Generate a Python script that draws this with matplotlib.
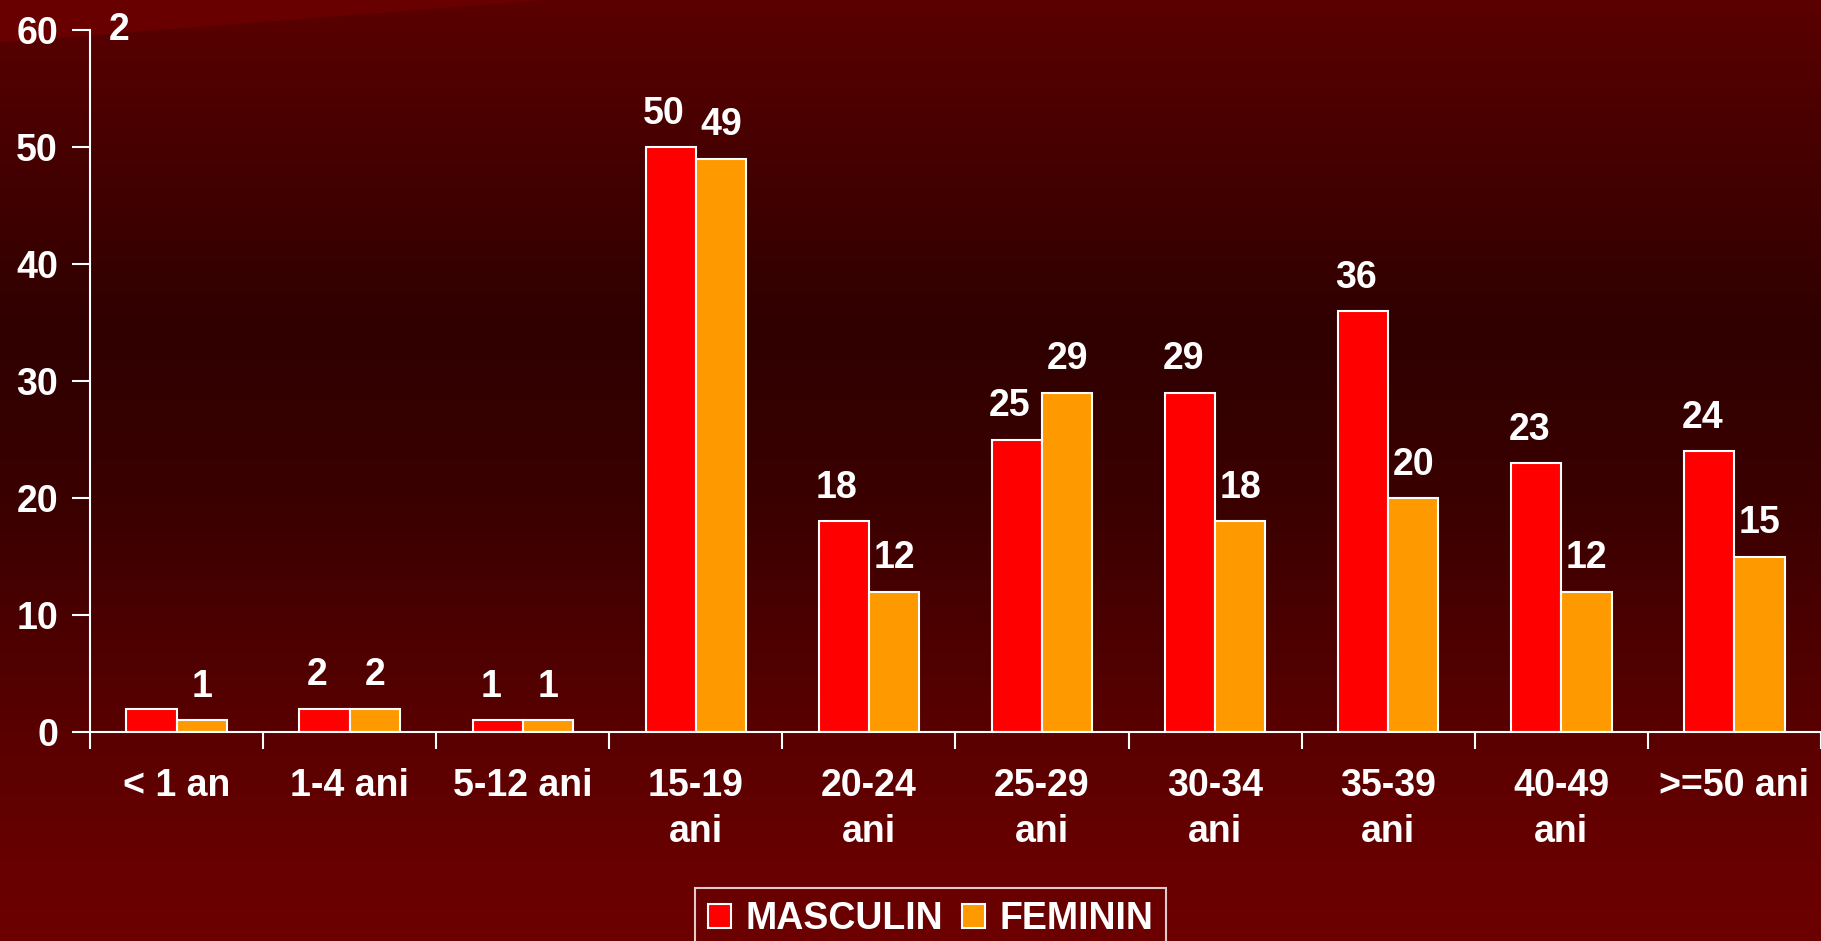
import numpy as np
import matplotlib
matplotlib.use("Agg")
import matplotlib.pyplot as plt
from matplotlib.colors import LinearSegmentedColormap
from matplotlib.patches import Polygon

categories = ["< 1 an", "1-4 ani", "5-12 ani", "15-19\nani", "20-24\nani",
              "25-29\nani", "30-34\nani", "35-39\nani", "40-49\nani", ">=50 ani"]
masculin = [2, 2, 1, 50, 18, 25, 29, 36, 23, 24]
feminin = [1, 2, 1, 49, 12, 29, 18, 20, 12, 15]
series_names = ["MASCULIN", "FEMININ"]
yticks = [0, 10, 20, 30, 40, 50, 60]

plt.rcParams['font.family'] = ['Liberation Sans', 'DejaVu Sans']
plt.rcParams['font.weight'] = 'bold'

FS = 27
W, H = 1821, 941
fig = plt.figure(figsize=(W / 100, H / 100), dpi=100)

# background gradient (row 0 = top of figure)
bg = fig.add_axes([0, 0, 1, 1], zorder=-10)
cmap = LinearSegmentedColormap.from_list("bg", [
    (0.0, "#5a0000"), (0.05, "#540000"), (0.15, "#480000"), (0.35, "#2f0000"),
    (0.55, "#3c0000"), (0.75, "#560000"), (0.9, "#660000"), (1.0, "#6c0000")])
grad = np.linspace(0, 1, 256).reshape(-1, 1)
bg.imshow(grad, aspect='auto', cmap=cmap, extent=[0, 1, 0, 1], origin='upper')
bg.add_patch(Polygon([[0, 1], [0.3, 1], [0, 0.955]], closed=True, facecolor="#680000", edgecolor='none'))
bg.set_xlim(0, 1)
bg.set_ylim(0, 1)
bg.set_axis_off()

ax = fig.add_axes([0.0494, 0.2221, 0.9506, 0.746])
ax.patch.set_alpha(0)

x = np.arange(len(categories))
bw = 0.29
b1 = ax.bar(x - bw / 2, masculin, bw, color="#ff0000", edgecolor="white", linewidth=1.5, label=series_names[0])
b2 = ax.bar(x + bw / 2, feminin, bw, color="#ff9900", edgecolor="white", linewidth=1.5, label=series_names[1])

for i, (m, f) in enumerate(zip(masculin, feminin)):
    if i == 0:
        ax.text(-0.33, 60, str(m), ha='center', va='center', color='white', fontsize=FS, fontweight='bold')
    else:
        ax.annotate(str(m), (x[i] - bw / 2, m), xytext=(-5, 11), textcoords='offset points',
                    ha='center', va='bottom', color='white', fontsize=FS, fontweight='bold')
    ax.annotate(str(f), (x[i] + bw / 2, f), xytext=(0, 11), textcoords='offset points',
                ha='center', va='bottom', color='white', fontsize=FS, fontweight='bold')

ax.set_xlim(-0.5, len(categories) - 0.5)
ax.set_ylim(0, 60)
ax.set_yticks(yticks)
ax.set_xticks(x)
ax.set_xticklabels(categories, linespacing=1.35)
ax.set_xticks(np.arange(-0.5, len(categories), 1), minor=True)

for s in ['top', 'right']:
    ax.spines[s].set_visible(False)
for s in ['left', 'bottom']:
    ax.spines[s].set_color('white')
    ax.spines[s].set_linewidth(1.5)

ax.tick_params(axis='y', colors='white', length=13, width=1.5, pad=10, labelsize=FS)
ax.tick_params(axis='x', which='major', length=0, pad=26, labelsize=FS, colors='white')
ax.tick_params(axis='x', which='minor', length=12, width=1.5, colors='white')
for lbl in ax.get_xticklabels() + ax.get_yticklabels():
    lbl.set_fontweight('bold')

leg = fig.legend(handles=[b1, b2], loc='upper center', bbox_to_anchor=(0.511, 0.0565),
                 ncol=2, frameon=True, fontsize=FS, handlelength=0.62, handleheight=0.62,
                 handletextpad=0.38, columnspacing=0.5, borderpad=0.35, borderaxespad=0,
                 fancybox=False)
leg.get_frame().set_facecolor('none')
leg.get_frame().set_edgecolor('white')
leg.get_frame().set_linewidth(1.5)
for t in leg.get_texts():
    t.set_color('white')
    t.set_fontweight('bold')

fig.savefig("out.png", dpi=100)
